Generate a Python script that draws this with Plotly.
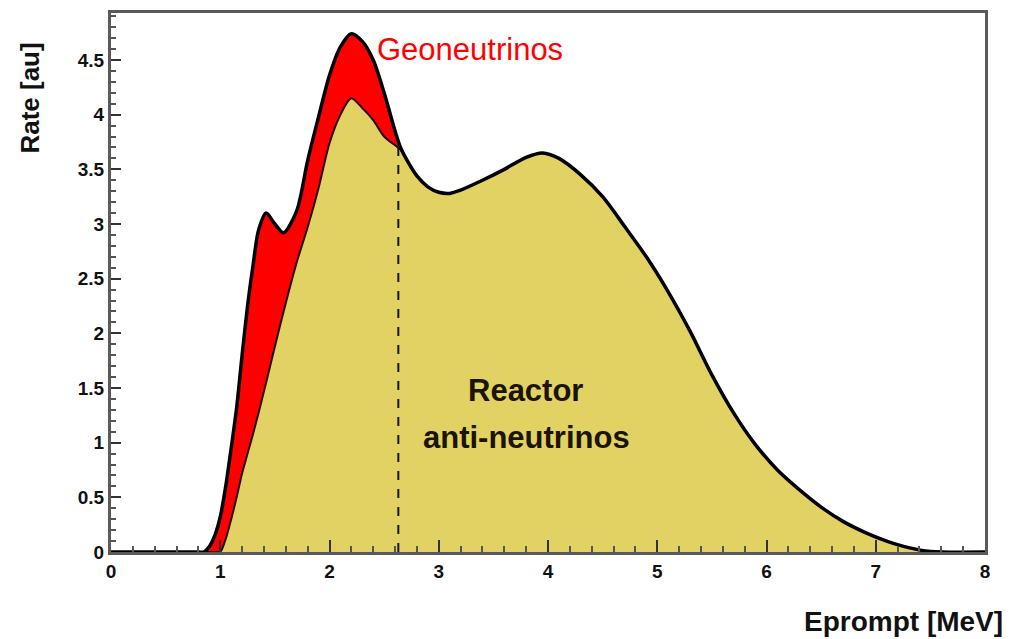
import numpy as np
import plotly.graph_objects as go

# ---- data ----
energy = [0, 0.8, 0.85, 0.9, 0.95, 1.0, 1.05, 1.1, 1.15, 1.2, 1.25, 1.3, 1.35, 1.42, 1.5,
          1.58, 1.7, 1.8, 1.9, 2.0, 2.1, 2.2, 2.3, 2.4, 2.5, 2.6, 2.65, 2.7, 2.8, 2.9,
          3.0, 3.1, 3.2, 3.4, 3.6, 3.8, 3.95, 4.1, 4.3, 4.5, 4.7, 4.9, 5.1, 5.3, 5.5,
          5.7, 5.9, 6.1, 6.3, 6.5, 6.7, 6.9, 7.1, 7.3, 7.5, 8.0]

total_rate = [0, 0, 0.0, 0.05, 0.15, 0.32, 0.6, 0.95, 1.32, 1.8, 2.25, 2.62, 2.94, 3.1, 3.0,
              2.92, 3.12, 3.58, 3.98, 4.36, 4.62, 4.74, 4.67, 4.5, 4.2, 3.85, 3.7, 3.6, 3.44, 3.34,
              3.29, 3.28, 3.31, 3.4, 3.5, 3.61, 3.65, 3.6, 3.45, 3.25, 2.98, 2.7, 2.38, 2.02, 1.62,
              1.27, 0.98, 0.75, 0.57, 0.41, 0.28, 0.18, 0.1, 0.04, 0.005, 0]

reactor_rate = [0, 0, 0, 0, 0, 0.0, 0.12, 0.3, 0.5, 0.72, 0.9, 1.08, 1.27, 1.55, 1.88,
                2.2, 2.65, 2.97, 3.33, 3.74, 4.0, 4.15, 4.06, 3.95, 3.8, 3.72, 3.68, 3.6, 3.44, 3.34,
                3.29, 3.28, 3.31, 3.4, 3.5, 3.61, 3.65, 3.6, 3.45, 3.25, 2.98, 2.7, 2.38, 2.02, 1.62,
                1.27, 0.98, 0.75, 0.57, 0.41, 0.28, 0.18, 0.1, 0.04, 0.005, 0]

cut_energy = 2.63
x_ticks = [0, 1, 2, 3, 4, 5, 6, 7, 8]
y_ticks = [0, 0.5, 1, 1.5, 2, 2.5, 3, 3.5, 4, 4.5]
y_tick_text = ["0", "0.5", "1", "1.5", "2", "2.5", "3", "3.5", "4", "4.5"]

YELLOW = "#E2D264"
RED = "#FF0000"
FONT = "Liberation Sans"

fig = go.Figure()

fig.add_trace(go.Scatter(
    x=energy, y=reactor_rate, mode="lines",
    line=dict(color="#2a0500", width=2, shape="spline", smoothing=0.8),
    fill="tozeroy", fillcolor=YELLOW, showlegend=False, hoverinfo="skip"))

fig.add_trace(go.Scatter(
    x=energy, y=total_rate, mode="lines",
    line=dict(color="black", width=3.5, shape="spline", smoothing=0.8),
    fill="tonexty", fillcolor=RED, showlegend=False, hoverinfo="skip"))

cut_top = float(np.interp(cut_energy, energy, total_rate))
fig.add_trace(go.Scatter(
    x=[cut_energy, cut_energy], y=[0, cut_top], mode="lines",
    line=dict(color="#1a1a1a", width=2, dash="dash"),
    showlegend=False, hoverinfo="skip"))

fig.add_annotation(x=2.42, y=4.6, xref="x", yref="y", text="Geoneutrinos",
                   showarrow=False, xanchor="left", yanchor="middle",
                   font=dict(family=FONT, size=31, color=RED))
fig.add_annotation(x=3.79, y=1.48, xref="x", yref="y", text="<b>Reactor</b>",
                   showarrow=False, xanchor="center", yanchor="middle",
                   font=dict(family=FONT, size=31, color="#1a1400"))
fig.add_annotation(x=3.8, y=1.05, xref="x", yref="y", text="<b>anti-neutrinos</b>",
                   showarrow=False, xanchor="center", yanchor="middle",
                   font=dict(family=FONT, size=31, color="#1a1400"))

fig.add_annotation(x=-0.0927, y=0.843, xref="paper", yref="paper", text="<b>Rate [au]</b>",
                   showarrow=False, textangle=-90, xanchor="center", yanchor="middle",
                   font=dict(family=FONT, size=26, color="#111"))
fig.add_annotation(x=1.023, y=-0.129, xref="paper", yref="paper", text="<b>Eprompt [MeV]</b>",
                   showarrow=False, xanchor="right", yanchor="middle",
                   font=dict(family=FONT, size=28, color="#111"))

axis_common = dict(showline=True, linecolor="#5a5a5a", linewidth=3, mirror=True,
                   ticks="inside", tickcolor="#333", showgrid=False, zeroline=False,
                   tickfont=dict(family=FONT, size=19, color="#111", weight="bold"))

fig.update_xaxes(range=[0, 8], tickvals=x_ticks, ticklen=12, tickwidth=1.5,
                 minor=dict(dtick=0.2, ticks="inside", ticklen=6, tickcolor="#555"),
                 **axis_common)
fig.update_yaxes(range=[0, 4.93], tickvals=y_ticks, ticktext=y_tick_text,
                 ticklen=10, tickwidth=1.5,
                 minor=dict(dtick=0.1, ticks="inside", ticklen=5, tickcolor="#555"),
                 **axis_common)

# page body adds an 8px offset; size the figure so the plot lands where the reference's does
fig.update_layout(width=1002, height=631,
                  margin=dict(l=103, r=25, t=2, b=87),
                  paper_bgcolor="white", plot_bgcolor="white",
                  showlegend=False)

fig.write_html("out.html")
